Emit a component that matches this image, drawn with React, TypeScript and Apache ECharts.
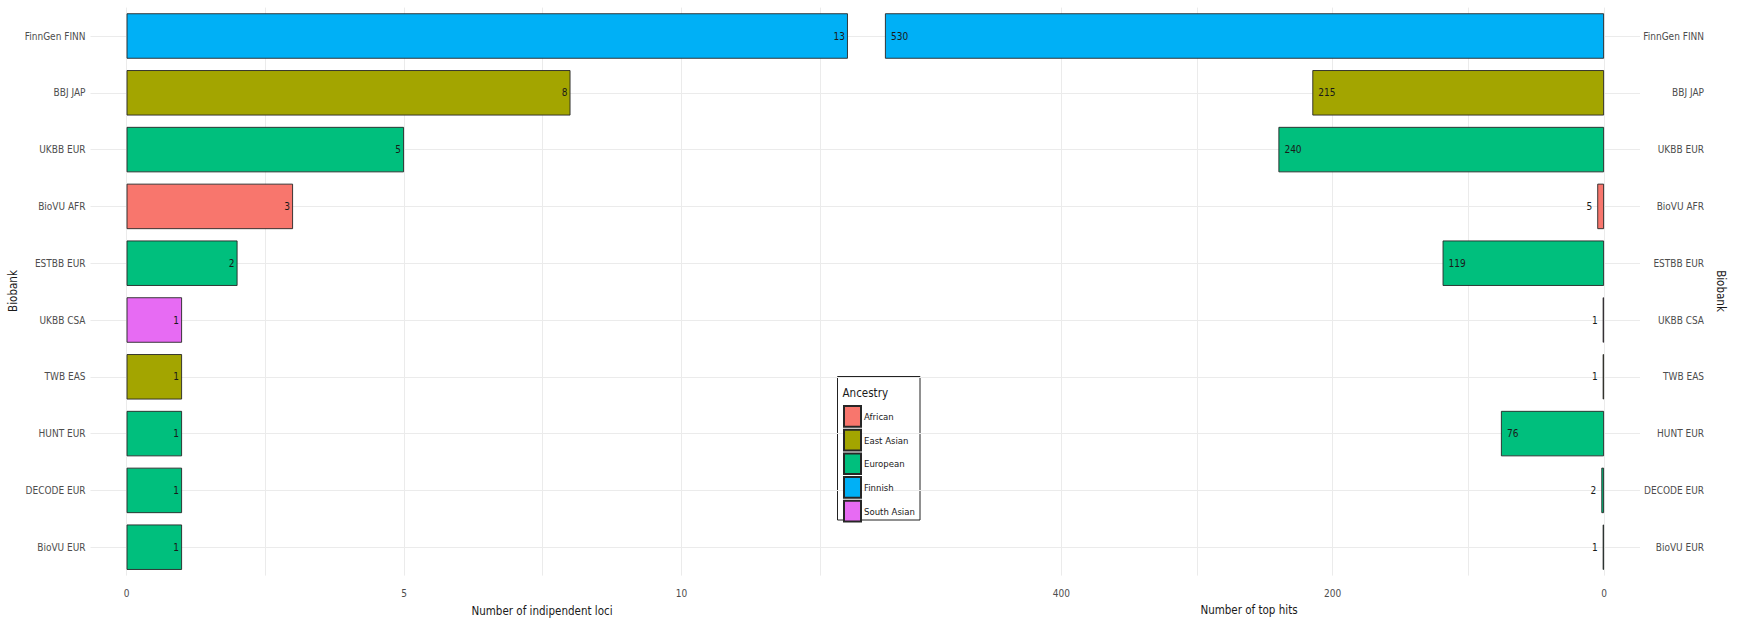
import React, { useEffect, useRef } from "react";
import * as echarts from "echarts";

const categories = ["FinnGen FINN", "BBJ JAP", "UKBB EUR", "BioVU AFR", "ESTBB EUR", "UKBB CSA", "TWB EAS", "HUNT EUR", "DECODE EUR", "BioVU EUR"];
const categoryAncestry = ["Finnish", "East Asian", "European", "African", "European", "South Asian", "East Asian", "European", "European", "European"];
const ancestries = ["African", "East Asian", "European", "Finnish", "South Asian"];
const ancestryColors = ["#F8766D", "#A3A500", "#00BF7D", "#00B0F6", "#E76BF3"];
const independentLoci = [13, 8, 5, 3, 2, 1, 1, 1, 1, 1];
const topHits = [530, 215, 240, 5, 119, 1, 1, 76, 2, 1];
const leftTickLabels = [0, 5, 10];
const leftGridValues = [0, 2.5, 5, 7.5, 10, 12.5];
const rightTickLabels = [0, 200, 400];
const rightGridValues = [0, 100, 200, 300, 400];

const FONT = "'Liberation Sans Narrow', 'Arial Narrow', 'DejaVu Sans Condensed', 'Liberation Sans', sans-serif";
const GRID_COLOR = "#ebebeb";
const AXIS_TEXT = "#4d4d4d";

export default function App() {
  const ref = useRef<HTMLDivElement>(null);
  useEffect(() => {
    if (!ref.current) return;
    const chart = echarts.init(ref.current, undefined, { renderer: "svg" });

    const makeSeries = (values: number[], axisIndex: number, right: boolean) =>
      ancestries.map((anc, ai) => ({
        type: "bar",
        name: anc,
        stack: right ? "r" : "l",
        xAxisIndex: axisIndex,
        yAxisIndex: axisIndex,
        barWidth: "80%",
        itemStyle: { color: ancestryColors[ai], borderColor: "#262626", borderWidth: 0.9 },
        data: values.map((v, i) => {
          if (categoryAncestry[i] !== anc) return "-";
          if (!right) return v;
          const big = v >= 50;
          return {
            value: v,
            label: { position: big ? "insideLeft" : "left", distance: big ? 6 : 5 },
          };
        }),
        label: {
          show: true,
          position: right ? "insideLeft" : "insideRight",
          distance: 3,
          color: "#1a1a1a",
          fontSize: 10,
          fontFamily: FONT,
        },
      }));

    const yAxisBase = (gridIndex: number, right: boolean) => ({
      type: "category",
      gridIndex,
      data: categories,
      inverse: true,
      position: right ? "right" : "left",
      axisLine: { show: false },
      axisTick: { show: false },
      axisLabel: {
        color: AXIS_TEXT,
        fontSize: 10,
        fontFamily: FONT,
        align: "right",
        margin: right ? 64 : 5,
      },
      splitLine: { show: true, alignWithLabel: true, lineStyle: { color: GRID_COLOR, width: 1 } },
    });

    chart.setOption({
      animation: false,
      backgroundColor: "#ffffff",
      textStyle: { fontFamily: FONT },
      grid: [
        { left: 90.5, width: 793.5, top: 7.6, height: 568 },
        { left: 849, width: 791, top: 7.6, height: 568 },
      ],
      xAxis: [
        {
          type: "value",
          gridIndex: 0,
          min: -0.65,
          max: 13.65,
          axisLine: { show: false },
          axisTick: { show: false, customValues: leftGridValues },
          axisLabel: { customValues: leftTickLabels, color: AXIS_TEXT, fontSize: 10, fontFamily: FONT, margin: 13 },
          splitLine: { show: true, lineStyle: { color: GRID_COLOR, width: 1 } },
        },
        {
          type: "value",
          gridIndex: 1,
          min: -26.5,
          max: 556.5,
          inverse: true,
          axisLine: { show: false },
          axisTick: { show: false, customValues: rightGridValues },
          axisLabel: { customValues: rightTickLabels, color: AXIS_TEXT, fontSize: 10, fontFamily: FONT, margin: 13 },
          splitLine: { show: true, lineStyle: { color: GRID_COLOR, width: 1 } },
        },
      ],
      yAxis: [yAxisBase(0, false), yAxisBase(1, true)],
      legend: {
        data: ancestries,
        orient: "vertical",
        left: 843,
        top: 405,
        padding: 0,
        icon: "rect",
        itemWidth: 17,
        itemHeight: 20.7,
        itemGap: 1,
        selectedMode: false,
        textStyle: { color: "#1a1a1a", fontSize: 9.5, fontFamily: FONT, padding: [0, 0, 0, -2] },
      },
      graphic: [
        {
          type: "rect",
          shape: { x: 837.5, y: 376.5, width: 82.5, height: 143.5 },
          style: { fill: "#ffffff", stroke: "#222", lineWidth: 1 },
          z: -1,
        },
        {
          type: "text",
          x: 842.5,
          y: 393,
          style: { text: "Ancestry", fill: "#1a1a1a", fontSize: 11.5, fontFamily: FONT, verticalAlign: "middle", align: "left" },
        },
        {
          type: "text",
          x: 542,
          y: 611,
          style: { text: "Number of indipendent loci", fill: "#1a1a1a", fontSize: 11.5, fontFamily: FONT, align: "center", verticalAlign: "middle" },
        },
        {
          type: "text",
          x: 1249,
          y: 610,
          style: { text: "Number of top hits", fill: "#1a1a1a", fontSize: 11.5, fontFamily: FONT, align: "center", verticalAlign: "middle" },
        },
        {
          type: "text",
          x: 13,
          y: 291,
          rotation: Math.PI / 2,
          style: { text: "Biobank", fill: "#1a1a1a", fontSize: 11.5, fontFamily: FONT, align: "center", verticalAlign: "middle" },
        },
        {
          type: "text",
          x: 1721,
          y: 291,
          rotation: -Math.PI / 2,
          style: { text: "Biobank", fill: "#1a1a1a", fontSize: 11.5, fontFamily: FONT, align: "center", verticalAlign: "middle" },
        },
      ],
      series: [...makeSeries(independentLoci, 0, false), ...makeSeries(topHits, 1, true)],
    });
    return () => chart.dispose();
  }, []);
  return <div ref={ref} style={{ position: "fixed", left: 0, top: 0, width: 1741, height: 629 }} />;
}
